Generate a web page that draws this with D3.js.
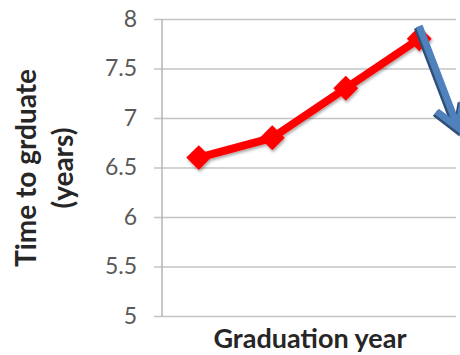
<!DOCTYPE html>
<html>
<head>
<meta charset="utf-8">
<script src="https://cdn.jsdelivr.net/npm/d3@7"></script>
<style>
  body { margin: 0; background: #fff; }
  svg { display: block; font-family: Lato, "Open Sans", sans-serif; }
</style>
</head>
<body>
<svg width="460" height="355"></svg>
<script>
// graduation cohorts (no labels shown on the x axis in the original)
var cohorts = ['c1', 'c2', 'c3', 'c4']
var timeToGrad = [6.6, 6.8, 7.3, 7.8]
var yTicks = [5, 5.5, 6, 6.5, 7, 7.5, 8]
var yTitle = ['Time to grduate', '(years)']
var xTitle = 'Graduation year'
// annotation arrow, in (cohort index, years)
var arrowFrom = [3, 7.93]
var arrowTo = [3.53, 6.9]

var svg = d3.select('svg')

var x = d3.scaleBand().domain(cohorts).range([162, 456])
var xi = d3.scaleLinear().domain([-0.5, cohorts.length - 0.5]).range([162, 456])
var y = d3.scaleLinear().domain([5, 8]).range([316, 19])

var defs = svg.append('defs')
defs.append('filter').attr('id', 'shadow')
  .attr('x', '-50%').attr('y', '-50%').attr('width', '200%').attr('height', '200%')
  .append('feDropShadow')
  .attr('dx', 1).attr('dy', 2).attr('stdDeviation', 1.6)
  .attr('flood-color', '#000').attr('flood-opacity', 0.35)

// gridlines + ticks
svg.append('g')
  .attr('transform', 'translate(162,0)')
  .call(d3.axisLeft(y).tickValues(yTicks).tickSize(-294).tickPadding(25)
    .tickFormat(d3.format('')))
  .call(function (g) {
    g.select('.domain').remove()
    g.selectAll('.tick line')
      .attr('x1', -8)
      .attr('stroke', '#c4c4c4')
      .attr('stroke-width', 1.6)
    g.selectAll('.tick text')
      .attr('fill', '#595959')
      .style('font-size', '23px')
      .attr('font-family', 'Lato, sans-serif')
  })

// y axis line
svg.append('line')
  .attr('x1', 162).attr('x2', 162)
  .attr('y1', y(8)).attr('y2', y(5))
  .attr('stroke', '#b0b0b0').attr('stroke-width', 1.4)

// series
var pts = cohorts.map(function (c, i) { return [x(c) + x.bandwidth() / 2, y(timeToGrad[i])] })

var series = svg.append('g').attr('filter', 'url(#shadow)')
series.append('path')
  .attr('d', d3.line()(pts))
  .attr('fill', 'none')
  .attr('stroke', '#ff0000')
  .attr('stroke-width', 8)
  .attr('stroke-linejoin', 'round')

series.selectAll('path.mark')
  .data(pts)
  .enter().append('path')
  .attr('class', 'mark')
  .attr('d', d3.symbol().type(d3.symbolSquare).size(310))
  .attr('transform', function (d) { return 'translate(' + d[0] + ',' + d[1] + ') rotate(45)' })
  .attr('fill', '#ff0000')

// arrow annotation
var a0 = [xi(arrowFrom[0]), y(arrowFrom[1])]
var a1 = [xi(arrowTo[0]), y(arrowTo[1])]
var ang = Math.atan2(a1[1] - a0[1], a1[0] - a0[0])
var wing = 27, spread = 0.55
function wingPt(s) {
  return [a1[0] - wing * Math.cos(ang + s * spread), a1[1] - wing * Math.sin(ang + s * spread)]
}
var arrowD = d3.line()([a0, a1]) + d3.line()([wingPt(1), a1, wingPt(-1)])

svg.append('path')
  .attr('d', arrowD)
  .attr('transform', 'translate(-1.5,1.5)')
  .attr('fill', 'none')
  .attr('stroke', '#2f4f78')
  .attr('stroke-width', 8)
  .attr('stroke-linejoin', 'miter')
svg.append('path')
  .attr('d', arrowD)
  .attr('fill', 'none')
  .attr('stroke', '#4f81bd')
  .attr('stroke-width', 7)
  .attr('stroke-linejoin', 'miter')

// titles
var yt = svg.append('text')
  .attr('transform', 'translate(0,168) rotate(-90)')
  .attr('text-anchor', 'middle')
  .attr('font-weight', 'bold')
  .style('font-size', '28px')
  .attr('fill', '#262626')
yt.selectAll('tspan')
  .data(yTitle)
  .enter().append('tspan')
  .attr('x', 0)
  .attr('y', function (d, i) { return 36 + i * 37 })
  .text(function (d) { return d })

svg.append('text')
  .attr('x', 310).attr('y', 348)
  .attr('text-anchor', 'middle')
  .attr('font-weight', 'bold')
  .style('font-size', '27px')
  .attr('fill', '#262626')
  .text(xTitle)
</script>
</body>
</html>
